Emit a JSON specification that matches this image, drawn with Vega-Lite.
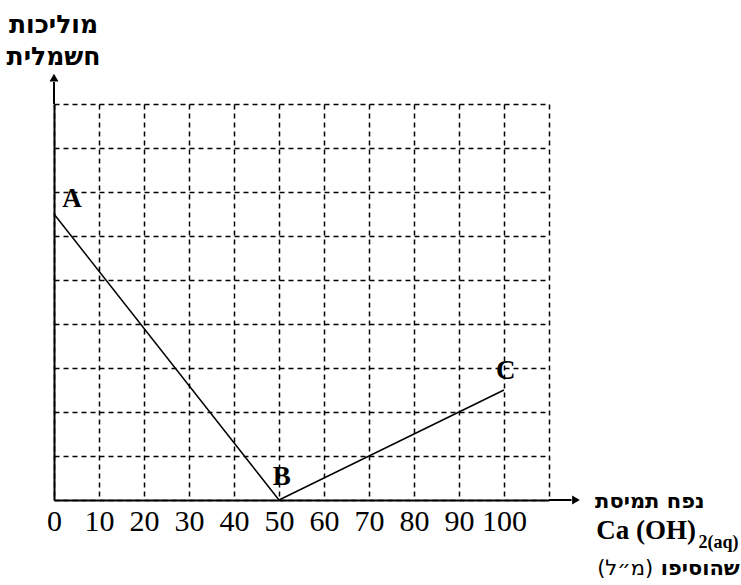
{
  "$schema": "https://vega.github.io/schema/vega-lite/v6.json",
  "width": 495,
  "height": 396,
  "autosize": {"type": "none"},
  "padding": {"left": 54, "top": 104, "right": 192, "bottom": 85},
  "background": "white",
  "config": {"view": {"stroke": null}, "font": "Liberation Serif"},
  "data": {"values": [{}]},
  "layer": [
    {
      "data": {"values": [{"ml": 0, "cond": 6.5}, {"ml": 50, "cond": 0}, {"ml": 100, "cond": 2.5}]},
      "mark": {"type": "line", "color": "black", "strokeWidth": 1.5},
      "encoding": {
        "x": {
          "field": "ml", "type": "quantitative",
          "scale": {"domain": [0, 110], "nice": false},
          "axis": {
            "values": [0, 10, 20, 30, 40, 50, 60, 70, 80, 90, 100, 110],
            "grid": true, "gridColor": "black", "gridDash": [5, 4], "gridWidth": 1.5, "gridOpacity": 1,
            "domainColor": "black", "domainWidth": 2, "ticks": false,
            "labelExpr": "datum.value <= 100 ? datum.label : ''",
            "labelFont": "Liberation Serif", "labelFontSize": 30, "labelColor": "black",
            "labelPadding": 6, "labelFlush": false, "labelOverlap": false,
            "title": null
          }
        },
        "y": {
          "field": "cond", "type": "quantitative",
          "scale": {"domain": [0, 9], "nice": false},
          "axis": {
            "values": [0, 1, 2, 3, 4, 5, 6, 7, 8, 9],
            "grid": true, "gridColor": "black", "gridDash": [5, 4], "gridWidth": 1.5, "gridOpacity": 1,
            "domainColor": "black", "domainWidth": 2, "ticks": false, "labels": false,
            "title": ["מוליכות", "חשמלית"],
            "titleAngle": 0, "titleAlign": "center", "titleBaseline": "top",
            "titleX": -1, "titleY": -92,
            "titleFont": "DejaVu Sans", "titleFontSize": 25, "titleFontWeight": "bold",
            "titleColor": "black", "titleLineHeight": 32
          }
        }
      }
    },
    {
      "mark": {"type": "rule", "color": "black", "strokeWidth": 2},
      "encoding": {"x": {"datum": 110}, "x2": {"datum": 115}, "y": {"datum": 0}}
    },
    {
      "mark": {"type": "rule", "color": "black", "strokeWidth": 2},
      "encoding": {"x": {"datum": 0}, "y": {"datum": 9}, "y2": {"datum": 9.5}}
    },
    {
      "mark": {"type": "point", "shape": "triangle-right", "filled": true, "color": "black", "size": 80, "opacity": 1},
      "encoding": {"x": {"datum": 116}, "y": {"datum": 0}}
    },
    {
      "mark": {"type": "point", "shape": "triangle-up", "filled": true, "color": "black", "size": 80, "opacity": 1},
      "encoding": {"x": {"datum": 0}, "y": {"datum": 9.6}}
    },
    {
      "data": {"values": [
        {"label": "A", "ml": 4.0, "cond": 6.84},
        {"label": "B", "ml": 50.6, "cond": 0.52},
        {"label": "C", "ml": 100.4, "cond": 2.93}
      ]},
      "mark": {"type": "text", "font": "Liberation Serif", "fontSize": 27, "fontWeight": "bold", "color": "black", "baseline": "middle", "align": "center"},
      "encoding": {
        "x": {"field": "ml", "type": "quantitative"},
        "y": {"field": "cond", "type": "quantitative"},
        "text": {"field": "label"}
      }
    },
    {
      "mark": {"type": "text", "text": "נפח תמיסת", "font": "DejaVu Sans", "fontSize": 21, "fontWeight": "bold", "color": "black", "align": "center", "baseline": "middle"},
      "encoding": {"x": {"datum": 132.4}, "y": {"datum": -0.05}}
    },
    {
      "mark": {"type": "text", "text": "Ca (OH)", "font": "Liberation Serif", "fontSize": 27, "fontWeight": "bold", "color": "black", "align": "left", "baseline": "middle"},
      "encoding": {"x": {"datum": 120.5}, "y": {"datum": -0.7}}
    },
    {
      "mark": {"type": "text", "text": "2(aq)", "font": "Liberation Serif", "fontSize": 18, "fontWeight": "bold", "color": "black", "align": "left", "baseline": "middle"},
      "encoding": {"x": {"datum": 143.2}, "y": {"datum": -0.98}}
    },
    {
      "mark": {"type": "text", "text": "שהוסיפו", "font": "DejaVu Sans", "fontSize": 21, "fontWeight": "bold", "color": "black", "align": "right", "baseline": "middle"},
      "encoding": {"x": {"datum": 152.4}, "y": {"datum": -1.57}}
    },
    {
      "mark": {"type": "text", "text": "(מ״ל)", "font": "DejaVu Sans", "fontSize": 21, "color": "black", "align": "left", "baseline": "middle"},
      "encoding": {"x": {"datum": 120.7}, "y": {"datum": -1.57}}
    }
  ]
}
